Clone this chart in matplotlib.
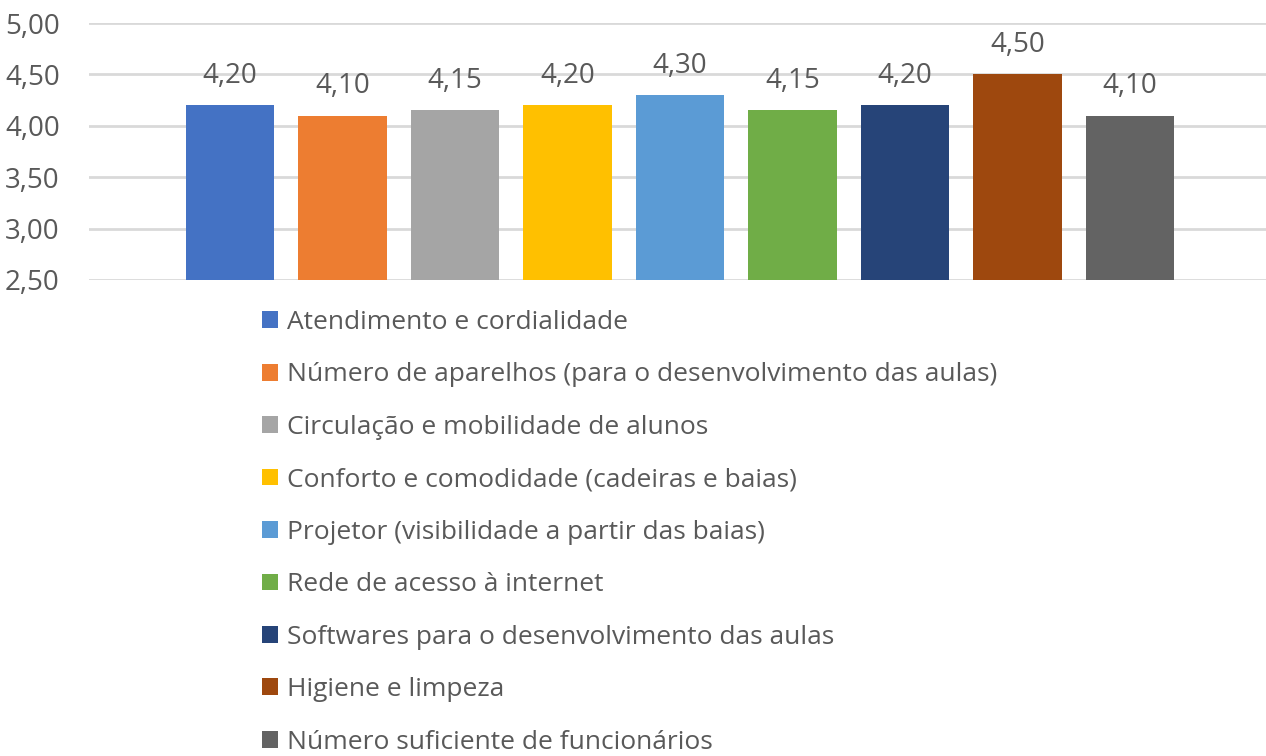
import numpy as np
import matplotlib
matplotlib.use("Agg")
import matplotlib.pyplot as plt

plt.rcParams["font.family"] = ["Open Sans", "DejaVu Sans"]

labels = ["Atendimento e cordialidade",
          "Número de aparelhos (para o desenvolvimento das aulas)",
          "Circulação e mobilidade de alunos",
          "Conforto e comodidade (cadeiras e baias)",
          "Projetor (visibilidade a partir das baias)",
          "Rede de acesso à internet",
          "Softwares para o desenvolvimento das aulas",
          "Higiene e limpeza",
          "Número suficiente de funcionários"]
values = [4.20, 4.10, 4.15, 4.20, 4.30, 4.15, 4.20, 4.50, 4.10]
colors = ["#4472c4", "#ed7d31", "#a5a5a5", "#ffc000", "#5b9bd5",
          "#70ad47", "#264478", "#9e480e", "#636363"]
yticks = [2.5, 3.0, 3.5, 4.0, 4.5, 5.0]

W, H = 1266, 756
fig = plt.figure(figsize=(W / 100, H / 100), dpi=100)
ax = fig.add_axes([89 / W, 1 - 280 / H, (W - 89) / W, 257 / H])

x = np.arange(len(values))
bars = ax.bar(x, values, width=0.79, color=colors, zorder=3)
for xi, v in zip(x, values):
    ax.annotate(f"{v:.2f}".replace(".", ","), (xi, v), xytext=(0, 21),
                textcoords="offset points", ha="center", va="center",
                fontsize=20, color="#595959")

ax.set_xlim(-1.253, 9.209)
ax.set_ylim(2.5, 5.0)
ax.set_yticks(yticks)
ax.set_yticklabels([f"{t:.2f}".replace(".", ",") for t in yticks])
ax.tick_params(axis="y", length=0, labelsize=20, labelcolor="#595959")
ax.tick_params(axis="x", length=0, labelbottom=False)
ax.grid(axis="y", color="#d9d9d9", lw=2, zorder=0)
for s in ax.spines.values():
    s.set_visible(False)
for lab in ax.get_yticklabels():
    lab.set_horizontalalignment("left")
    lab.set_x(-84 / (W - 89))
    lab.set_transform(ax.get_yaxis_transform())

leg = fig.legend(bars, labels, loc="upper left",
                 bbox_to_anchor=(262 / W, 1 - 310 / H), frameon=False,
                 fontsize=19, labelcolor="#595959", handlelength=0.6,
                 handleheight=0.6, handletextpad=0.34, labelspacing=1.04,
                 borderpad=0, borderaxespad=0)

fig.savefig("out.png", dpi=100)
